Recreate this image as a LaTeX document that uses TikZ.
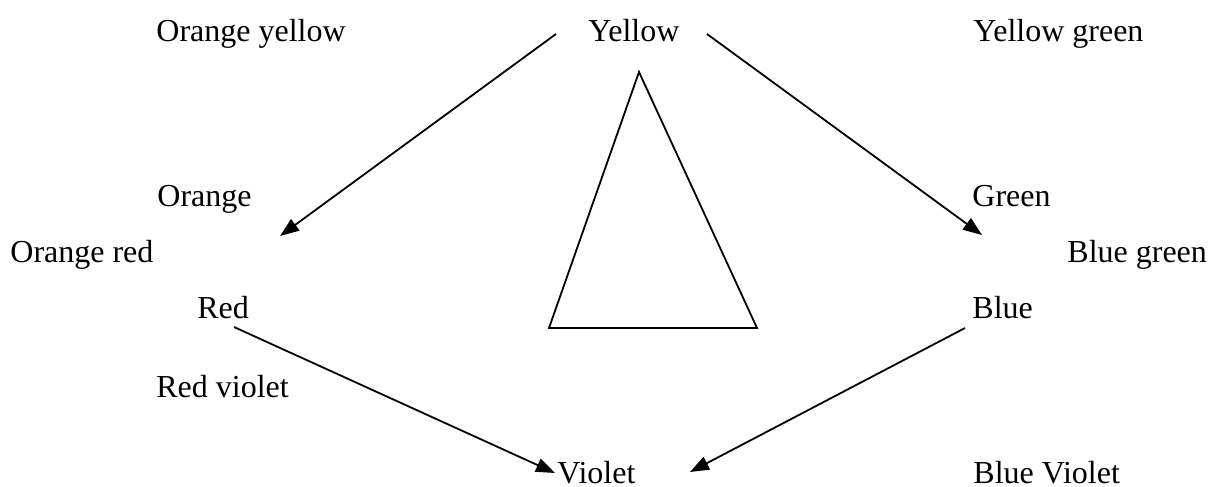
\documentclass[tikz,border=0pt]{standalone}
\usepackage{fontspec}
\setmainfont{Liberation Serif}
\usetikzlibrary{arrows.meta}
\begin{document}
\begin{tikzpicture}[x=0.5pt,y=-0.5pt,
  lbl/.style={anchor=base west,inner sep=0pt,font=\fontsize{16}{19}\selectfont},
  arr/.style={line width=0.9pt,-{Triangle[length=9.5pt,width=7pt]}},
  tri/.style={line width=0.9pt,line join=miter}]
\useasboundingbox (0,0) rectangle (1215,487);
\node[lbl] (oy) at (156,41) {Orange yellow};
\node[lbl] (y) at (588,41) {Yellow};
\node[lbl] (yg) at (973,41) {Yellow green};
\node[lbl] (o) at (157,206) {Orange};
\node[lbl] (g) at (972,206) {Green};
\node[lbl] (or) at (10,262) {Orange red};
\node[lbl] (bg) at (1067,262) {Blue green};
\node[lbl] (r) at (197,318) {Red};
\node[lbl] (b) at (972,318) {Blue};
\node[lbl] (rv) at (156,397) {Red violet};
\node[lbl] (v) at (557,483) {Violet};
\node[lbl] (bv) at (973,483) {Blue Violet};
\coordinate (s1) at (556,34);
\coordinate (e1) at (280,236);
\coordinate (s2) at (707,34);
\coordinate (e2) at (982,235);
\coordinate (s3) at (234,327);
\coordinate (e3) at (555,473);
\coordinate (s4) at (965,328);
\coordinate (e4) at (690,472);
\draw[arr] (s1) -- (e1);
\draw[arr] (s2) -- (e2);
\draw[arr] (s3) -- (e3);
\draw[arr] (s4) -- (e4);
\coordinate (ta) at (639,72);
\coordinate (tl) at (549,328);
\coordinate (tr) at (757,328);
\draw[tri] (ta) -- (tl) -- (tr) -- cycle;
\end{tikzpicture}
\end{document}
